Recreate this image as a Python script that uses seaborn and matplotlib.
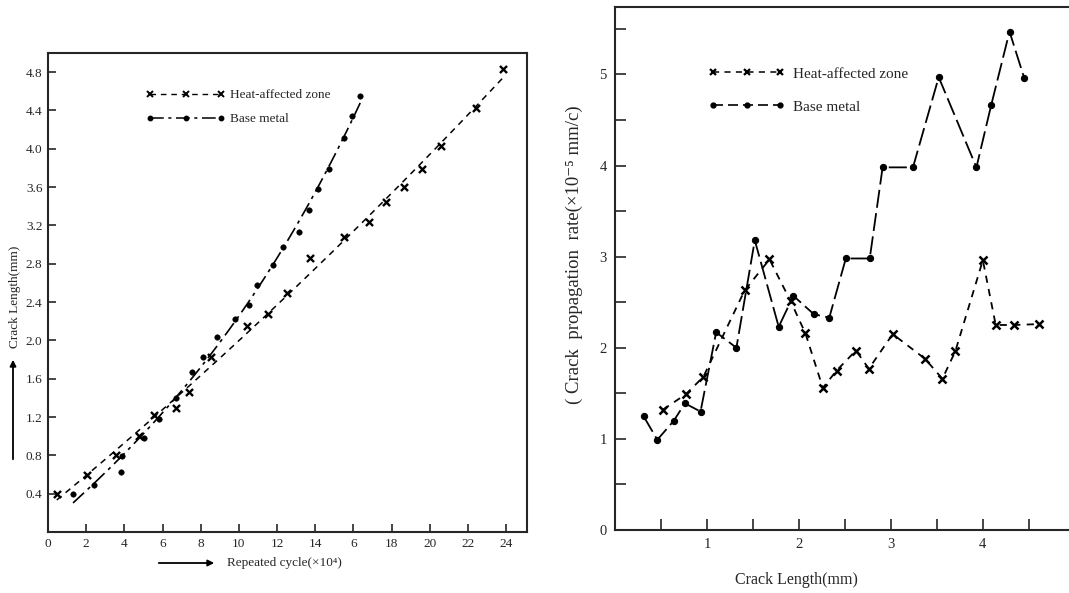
import numpy as np
import pandas as pd
import matplotlib
matplotlib.use("Agg")
import matplotlib.pyplot as plt
from matplotlib.lines import Line2D
import seaborn as sns

# ---------------- data: left panel (crack length vs repeated cycles) ----------------
cyc_haz = [0.46, 2.04, 3.54, 4.76, 5.56, 6.70, 7.38, 8.56, 10.45, 11.54, 12.53,
           13.74, 15.49, 16.81, 17.71, 18.65, 19.61, 20.57, 22.41, 23.86]
len_haz = [0.40, 0.60, 0.80, 1.00, 1.22, 1.29, 1.46, 1.83, 2.15, 2.28, 2.49,
           2.86, 3.08, 3.24, 3.44, 3.60, 3.79, 4.03, 4.43, 4.83]
cyc_base = [1.31, 2.42, 3.81, 3.88, 5.02, 5.81, 6.73, 7.53, 8.10, 8.83, 9.82,
            10.54, 10.94, 11.79, 12.30, 13.13, 13.70, 14.14, 14.73, 15.51, 15.94, 16.36]
len_base = [0.40, 0.49, 0.63, 0.79, 0.98, 1.18, 1.40, 1.67, 1.83, 2.04, 2.22,
            2.37, 2.58, 2.79, 2.98, 3.13, 3.36, 3.58, 3.79, 4.11, 4.34, 4.55]

left_xticks = [0, 2, 4, 6, 8, 10, 12, 14, 16, 18, 20, 22, 24]
left_xlabels = ["0", "2", "4", "6", "8", "10", "12", "14", "6", "18", "20", "22", "24"]
left_yticks = [0.4, 0.8, 1.2, 1.6, 2.0, 2.4, 2.8, 3.2, 3.6, 4.0, 4.4, 4.8]
left_ylabels = ["0.4", "0.8", "1.2", "1.6", "2.0", "2.4", "2.8", "3.2", "3.6", "4.0", "4.4", "4.8"]

# ---------------- data: right panel (propagation rate vs crack length) ----------------
cl_haz = [0.52, 0.77, 0.96, 1.41, 1.68, 1.91, 2.07, 2.26, 2.41, 2.62, 2.76,
          3.02, 3.37, 3.56, 3.70, 4.00, 4.14, 4.34, 4.61]
rate_haz = [1.32, 1.49, 1.68, 2.63, 2.97, 2.51, 2.16, 1.56, 1.75, 1.97, 1.77,
            2.15, 1.88, 1.66, 1.96, 2.96, 2.25, 2.25, 2.26]
cl_base = [0.31, 0.46, 0.64, 0.76, 0.93, 1.10, 1.32, 1.52, 1.78, 1.94, 2.16,
           2.33, 2.51, 2.77, 2.91, 3.24, 3.52, 3.93, 4.09, 4.29, 4.45]
rate_base = [1.25, 0.99, 1.20, 1.39, 1.30, 2.17, 2.00, 3.18, 2.23, 2.57, 2.37,
             2.33, 2.98, 2.98, 3.98, 3.98, 4.97, 3.98, 4.66, 5.47, 4.96]

right_xticks = [1, 2, 3, 4]
right_xlabels = ["1", "2", "3", "4"]
right_yticks = [0, 1, 2, 3, 4, 5]
right_ylabels = ["0", "1", "2", "3", "4", "5"]

legend_labels = ["Heat-affected zone", "Base metal"]

# ---------------- style ----------------
sns.set_style("ticks")
plt.rcParams["font.family"] = ["Liberation Serif", "DejaVu Serif"]
plt.rcParams["mathtext.fontset"] = "stix"

W, H = 1069, 593
fig = plt.figure(figsize=(W / 100, H / 100), dpi=100)

haz_ls = (0, (4, 3.5))
base_ls = (0, (9, 3, 2, 3))

# ================= left panel =================
ax1 = fig.add_axes([48 / W, (H - 532) / H, (527 - 48) / W, (532 - 53) / H])
sns.regplot(x=cyc_haz, y=len_haz, order=2, ci=None, scatter=False, ax=ax1,
            line_kws=dict(color="black", lw=1.1, ls=haz_ls))
sns.regplot(x=cyc_base, y=len_base, order=3, ci=None, scatter=False, ax=ax1,
            line_kws=dict(color="black", lw=1.2, ls=base_ls))
sns.scatterplot(x=cyc_haz, y=len_haz, marker="x", s=26, color="black",
                linewidth=1.7, ax=ax1)
sns.scatterplot(x=cyc_base, y=len_base, marker="o", s=16, color="black",
                edgecolor="black", ax=ax1)
ax1.set_xlim(0, 25.1)
ax1.set_ylim(0, 5.0)
ax1.set_xticks(left_xticks)
ax1.set_xticklabels(left_xlabels, fontsize=9.5)
ax1.set_yticks(left_yticks)
ax1.set_yticklabels(left_ylabels, fontsize=9.5)
ax1.tick_params(direction="in", length=6, width=1.2, pad=4)
for sp in ax1.spines.values():
    sp.set_visible(True)
    sp.set_linewidth(1.5)
ax1.set_xlabel("")
ax1.set_ylabel("")

h1 = [Line2D([], [], color="black", lw=1.0, ls=haz_ls, marker="x", ms=4, mew=1.4),
      Line2D([], [], color="black", lw=1.1, ls=base_ls, marker="o", ms=3.2)]
ax1.legend(h1, legend_labels, loc="upper left", bbox_to_anchor=(0.205, 0.925),
           frameon=False, numpoints=3, handlelength=6.0, handletextpad=0.35,
           labelspacing=0.9, borderpad=0, borderaxespad=0, fontsize=9.5)

fig.text(15 / W, 1 - 297 / H, "Crack Length(mm)", rotation=90, ha="center",
         va="center", fontsize=9.5)
ax1.annotate("", xy=(13 / W, 1 - 357 / H), xytext=(13 / W, 1 - 462 / H),
             xycoords="figure fraction", textcoords="figure fraction",
             arrowprops=dict(arrowstyle="-|>", color="black", lw=1.3,
                             mutation_scale=9), annotation_clip=False)
fig.text(227 / W, 1 - 563 / H, "Repeated cycle(\u00d710\u2074)", ha="left",
         va="center", fontsize=9.5)
ax1.annotate("", xy=(217 / W, 1 - 563 / H), xytext=(156 / W, 1 - 563 / H),
             xycoords="figure fraction", textcoords="figure fraction",
             arrowprops=dict(arrowstyle="-|>", color="black", lw=1.3,
                             mutation_scale=9), annotation_clip=False)

# ================= right panel =================
ax2 = fig.add_axes([615 / W, (H - 530) / H, (W - 615) / W + 0.002, (530 - 7) / H])
sns.lineplot(x=cl_haz, y=rate_haz, sort=False, estimator=None, ax=ax2,
             color="black", lw=1.3, linestyle=haz_ls, marker="x", ms=6,
             mew=1.8, mec="black")
sns.lineplot(x=cl_base, y=rate_base, sort=False, estimator=None, ax=ax2,
             color="black", lw=1.3, linestyle=(0, (10, 3)), marker="o", ms=4.5,
             mec="black")
ax2.set_xlim(0, 4.96)
ax2.set_ylim(0, 5.74)
ax2.set_xticks(right_xticks)
ax2.set_xticklabels(right_xlabels, fontsize=10.5)
ax2.set_xticks([0.5, 1.5, 2.5, 3.5, 4.5], minor=True)
ax2.set_yticks(right_yticks)
ax2.set_yticklabels(right_ylabels, fontsize=10.5)
ax2.set_yticks([0.5, 1.5, 2.5, 3.5, 4.5, 5.5], minor=True)
ax2.tick_params(which="both", direction="in", length=8, width=1.2, pad=6)
ax2.spines["right"].set_visible(False)
for s in ["left", "top", "bottom"]:
    ax2.spines[s].set_visible(True)
    ax2.spines[s].set_linewidth(1.5)
ax2.set_xlabel("")
ax2.set_ylabel("")

h2 = [Line2D([], [], color="black", lw=1.1, ls=haz_ls, marker="x", ms=5, mew=1.6),
      Line2D([], [], color="black", lw=1.2, ls=(0, (6, 3)), marker="o", ms=3.5)]
ax2.legend(h2, legend_labels, loc="upper left", bbox_to_anchor=(0.205, 0.885),
           frameon=False, numpoints=3, handlelength=5.0, handletextpad=0.5,
           labelspacing=1.25, borderpad=0, borderaxespad=0, fontsize=11)

fig.text(796 / W, 1 - 580 / H, "Crack Length(mm)", ha="center", va="center",
         fontsize=11.5)
fig.text(574 / W, 1 - 255 / H,
         "( Crack  propagation  rate(\u00d710\u207b\u2075 mm/c)",
         rotation=90, ha="center", va="center", fontsize=13.5)

fig.savefig("out.png", dpi=100)
